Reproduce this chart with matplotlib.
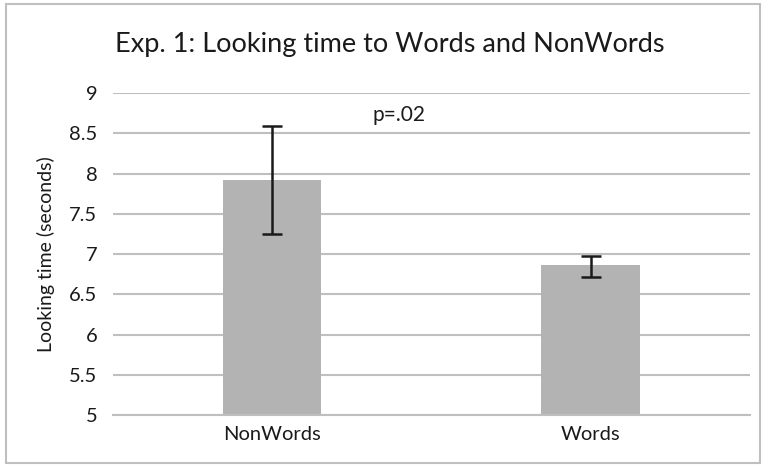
import matplotlib.pyplot as plt
from matplotlib.patches import Rectangle

categories = ['NonWords', 'Words']
means = [7.92, 6.86]
err_low = [7.25, 6.72]
err_high = [8.59, 6.98]
yticks = [5, 5.5, 6, 6.5, 7, 7.5, 8, 8.5, 9]
ytick_labels = ['5', '5.5', '6', '6.5', '7', '7.5', '8', '8.5', '9']

plt.rcParams['font.family'] = ['Lato', 'DejaVu Sans']

fig = plt.figure(figsize=(7.62, 4.66), dpi=100)
ax = fig.add_axes([0.148, 0.109, 0.836, 0.691])

x = range(len(categories))
yerr = [[m - lo for m, lo in zip(means, err_low)],
        [hi - m for m, hi in zip(means, err_high)]]
ax.bar(x, means, width=0.31, color='#b3b3b3', zorder=2)
ax.errorbar(x, means, yerr=yerr, fmt='none', ecolor='#1a1a1a',
            elinewidth=1.8, capsize=7, capthick=1.8, zorder=3)

ax.set_xlim(-0.5, 1.5)
ax.set_ylim(5, 9)
ax.set_yticks(yticks)
ax.set_yticklabels(ytick_labels)
ax.set_xticks(list(x))
ax.set_xticklabels(categories)
ax.grid(axis='y', color='#bfbfbf', linewidth=1.5, zorder=0)
ax.set_axisbelow(True)
for s in ['top', 'right', 'left']:
    ax.spines[s].set_visible(False)
ax.spines['bottom'].set_color('#bfbfbf')
ax.spines['bottom'].set_linewidth(1.5)
ax.tick_params(length=0, labelsize=14.5, colors='#1a1a1a')
ax.tick_params(axis='y', pad=11)
ax.tick_params(axis='x', pad=8)
ax.set_ylabel('Looking time (seconds)', fontsize=14, color='#1a1a1a', labelpad=10)

ax.text(0.40, 8.73, 'p=.02', fontsize=15, color='#1a1a1a', ha='center', va='center')

fig.text(0.512, 0.905, 'Exp. 1: Looking time to Words and NonWords',
         fontsize=19.5, color='#1a1a1a', ha='center', va='center')

fig.patches.append(Rectangle((0.008, 0.006), 0.99, 0.985, transform=fig.transFigure,
                             fill=False, edgecolor='#bfbfbf', linewidth=1.5))

fig.savefig('out.png', dpi=100)
